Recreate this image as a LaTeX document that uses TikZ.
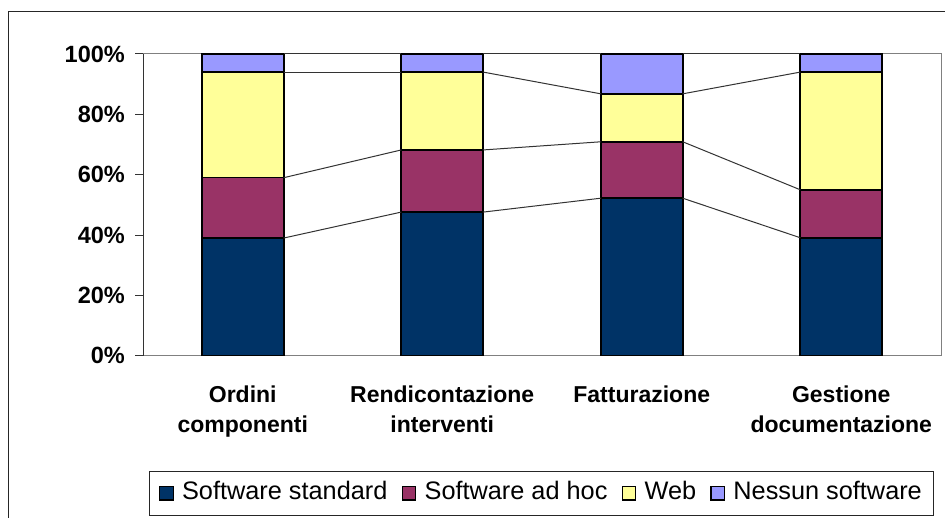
\documentclass[tikz,border=0pt]{standalone}
\usepackage{fontspec}
\setmainfont{Liberation Sans}
\usetikzlibrary{positioning}
\definecolor{stdblue}{HTML}{003366}
\definecolor{adhocred}{HTML}{993366}
\definecolor{webyellow}{HTML}{FFFF99}
\definecolor{noneblue}{HTML}{9999FF}

\begin{document}
\begin{tikzpicture}[x=1pt, y=-1pt, line join=miter,
    bar/.style={draw=black, line width=1.6pt},
    serieline/.style={draw=black!80, line width=1pt},
    ticklabel/.style={font=\fontsize{23.5}{26}\selectfont\bfseries, anchor=east, inner sep=0pt},
    catlabel/.style={font=\fontsize{23}{30}\selectfont\bfseries, align=center, inner sep=0pt},
    keybox/.style={draw=black, line width=1.3pt, minimum size=13.5pt, inner sep=0pt},
    keytext/.style={font=\fontsize{25.3}{30}\selectfont, inner sep=0pt, yshift=2.4pt}]

    % page and outer chart frame
    \useasboundingbox (0,0) rectangle (945,518);
    \fill[white] (0,0) rectangle (945,518);
    \draw[black!85, line width=1pt] (8,12) rectangle (970,540);

    % plot area border
    \draw[gray, line width=1pt] (143,54) rectangle (941,355.7);

    \begin{scope}[shift={(143,355.7)}, y=3.017pt]
        % y axis and ticks
        \draw[black!80, line width=1pt] (0,0) -- (0,100);
        \foreach \v in {0,20,...,100} {
            \draw[black!80, line width=1pt] (-8,\v) -- (0,\v);
            \node[ticklabel] at (-18,\v) {\v\%};
        }

        % stacked bars: standard, ad hoc, web, none (cumulative tops)
        \foreach \i/\a/\b/\c/\lbl in {1/39/59/94/{Ordini\\componenti},
                                      2/47.6/68.2/94/{Rendicontazione\\interventi},
                                      3/52.2/70.9/86.8/{Fatturazione},
                                      4/39.1/55/94/{Gestione\\documentazione}} {
            \pgfmathsetmacro{\xc}{99.75+199.5*(\i-1)}
            \draw[bar, fill=stdblue]   (\xc-41,0)  rectangle (\xc+41,\a);
            \draw[bar, fill=adhocred]  (\xc-41,\a) rectangle (\xc+41,\b);
            \draw[bar, fill=webyellow] (\xc-41,\b) rectangle (\xc+41,\c);
            \draw[bar, fill=noneblue]  (\xc-41,\c) rectangle (\xc+41,100);
            % ends for the series lines
            \coordinate (l\i-1) at (\xc-41,\a);
            \coordinate (r\i-1) at (\xc+41,\a);
            \coordinate (l\i-2) at (\xc-41,\b);
            \coordinate (r\i-2) at (\xc+41,\b);
            \coordinate (l\i-3) at (\xc-41,\c);
            \coordinate (r\i-3) at (\xc+41,\c);
            \coordinate (l\i-4) at (\xc-41,100);
            \coordinate (r\i-4) at (\xc+41,100);
            % category name under the bar
            \coordinate (c\i) at (\xc,0);
            \node[catlabel, anchor=north, below=30pt of c\i] (cat\i) {\lbl};
        }

        % series lines between neighbouring bars
        \foreach \i/\j in {1/2, 2/3, 3/4}
            \foreach \k in {1,2,3,4}
                \draw[serieline] (r\i-\k) -- (l\j-\k);
    \end{scope}

    % legend
    \draw[black!85, line width=1pt] (149,471) rectangle (933,515);
    \node[keybox, fill=stdblue] (k1) at (166.5,493.3) {};
    \node[keytext, right=8pt of k1] (t1) {Software standard};
    \node[keybox, fill=adhocred, right=14pt of t1.east |- k1] (k2) {};
    \node[keytext, right=8pt of k2] (t2) {Software ad hoc};
    \node[keybox, fill=webyellow, right=14pt of t2.east |- k1] (k3) {};
    \node[keytext, right=8pt of k3] (t3) {Web};
    \node[keybox, fill=noneblue, right=14pt of t3.east |- k1] (k4) {};
    \node[keytext, right=8pt of k4] (t4) {Nessun software};

\end{tikzpicture}
\end{document}
